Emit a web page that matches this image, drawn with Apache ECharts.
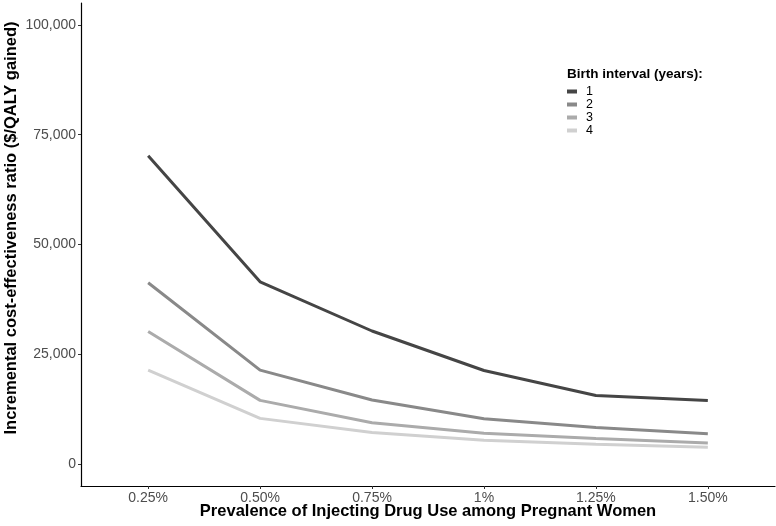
<!DOCTYPE html>
<html>
<head>
<meta charset="utf-8">
<script src="https://cdn.jsdelivr.net/npm/echarts@6/dist/echarts.min.js"></script>
<style>
html,body{margin:0;padding:0;background:#fff;}
#chart{width:776px;height:526px;}
</style>
</head>
<body>
<div id="chart"></div>
<script>
var categories = ['0.25%', '0.50%', '0.75%', '1%', '1.25%', '1.50%'];
var seriesNames = ['1', '2', '3', '4'];
var interval1 = [70200, 41500, 30300, 21300, 15600, 14500];
var interval2 = [41300, 21400, 14600, 10300, 8300, 6900];
var interval3 = [30200, 14500, 9400, 7000, 5800, 4800];
var interval4 = [21400, 10400, 7200, 5400, 4500, 3800];
var yTicks = [0, 25000, 50000, 75000, 100000];
var xTitle = 'Prevalence of Injecting Drug Use among Pregnant Women';
var yTitle = 'Incremental cost-effectiveness ratio ($/QALY gained)';

var allValues = [interval1, interval2, interval3, interval4];
var colors = ['#454545', '#898989', '#ababab', '#d0d0d0'];
var FONT = '"Liberation Sans", Arial, Helvetica, sans-serif';

function fmt(v) {
  return String(v).replace(/\B(?=(\d{3})+(?!\d))/g, ',');
}

var series = allValues.map(function (vals, k) {
  return {
    name: seriesNames[k],
    type: 'line',
    data: vals.map(function (v, i) { return [i, v]; }),
    symbol: 'none',
    lineStyle: { width: 3, color: colors[k] },
    itemStyle: { color: colors[k] },
    z: 10 - k
  };
});

var chart = echarts.init(document.getElementById('chart'));
chart.setOption({
  animation: false,
  backgroundColor: '#fff',
  textStyle: { fontFamily: FONT },
  grid: { left: 81, right: 1, top: 3, bottom: 40, containLabel: false, outerBoundsMode: 'none' },
  title: {
    text: 'Birth interval (years):',
    left: 562, top: 62,
    textStyle: { fontFamily: FONT, fontSize: 13.5, fontWeight: 'bold', color: '#000' }
  },
  legend: {
    orient: 'vertical',
    left: 562, top: 80,
    itemWidth: 10, itemHeight: 4,
    itemGap: 0,
    icon: 'rect',
    data: seriesNames,
    textStyle: { fontFamily: FONT, fontSize: 12.5, lineHeight: 13, color: '#000', padding: [0, 0, 0, 4] }
  },
  xAxis: {
    type: 'value',
    min: -0.6, max: 5.6,
    axisLine: { show: true, onZero: false, lineStyle: { color: '#000', width: 1.2 } },
    axisTick: { show: true, length: 3, lineStyle: { color: '#333' }, customValues: [0, 1, 2, 3, 4, 5] },
    axisLabel: {
      fontFamily: FONT, fontSize: 14, color: '#4d4d4d', margin: 5,
      customValues: [0, 1, 2, 3, 4, 5],
      formatter: function (v) { return categories[Math.round(v)]; }
    },
    splitLine: { show: false }
  },
  yAxis: {
    type: 'value',
    min: -5000, max: 105000,
    axisLine: { show: true, onZero: false, lineStyle: { color: '#000', width: 1.2 } },
    axisTick: { show: true, length: 3, lineStyle: { color: '#333' }, customValues: yTicks },
    axisLabel: {
      fontFamily: FONT, fontSize: 14, color: '#4d4d4d', margin: 5,
      customValues: yTicks,
      formatter: function (v) { return fmt(v); }
    },
    splitLine: { show: false }
  },
  graphic: [{
    type: 'text',
    x: 11, y: 228,
    rotation: Math.PI / 2,
    style: {
      text: yTitle,
      font: 'bold 16.5px ' + FONT,
      fill: '#000',
      textAlign: 'center',
      textVerticalAlign: 'middle'
    }
  }, {
    type: 'text',
    x: 428, y: 511,
    style: {
      text: xTitle,
      font: 'bold 16.5px ' + FONT,
      fill: '#000',
      textAlign: 'center',
      textVerticalAlign: 'middle'
    }
  }],
  series: series
});
</script>
</body>
</html>
